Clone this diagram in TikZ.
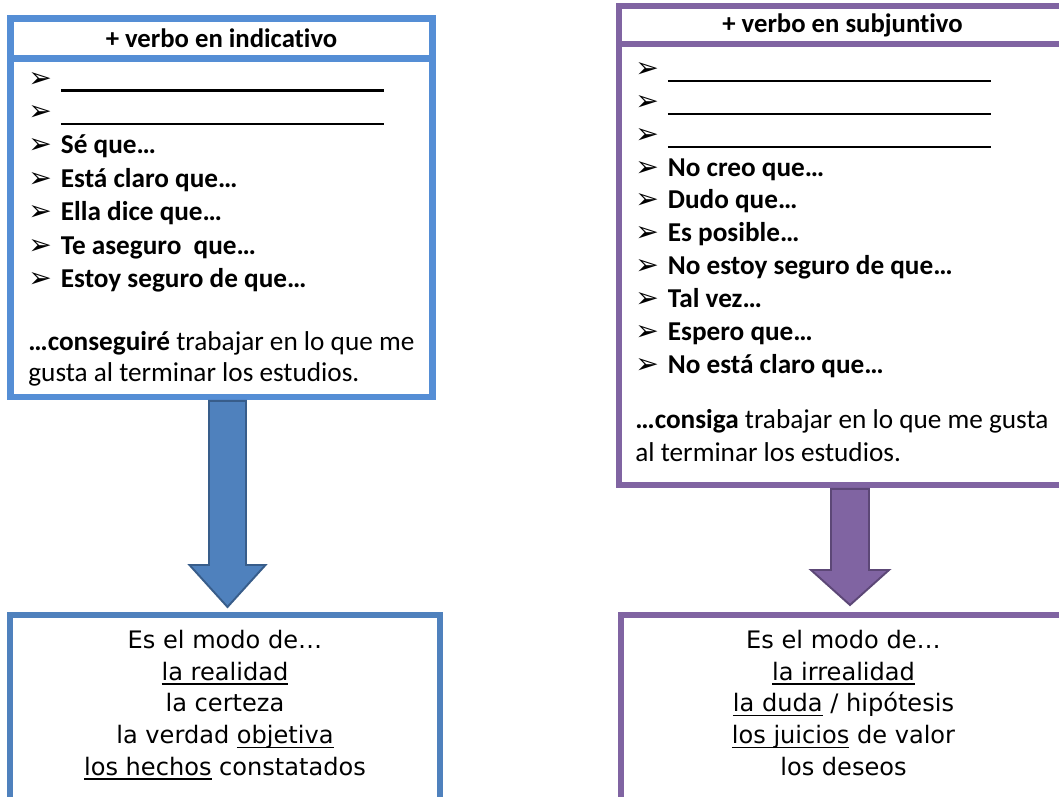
\documentclass[tikz,border=0pt]{standalone}
\usepackage{fontspec}
\setmainfont{Carlito}[Ligatures=NoCommon]
\newfontfamily\dejavu{DejaVu Sans}
\usetikzlibrary{positioning, calc}
\definecolor{indblue}{RGB}{85, 142, 213}
\definecolor{resblue}{RGB}{79, 129, 189}
\definecolor{arrblue}{RGB}{56, 93, 138}
\definecolor{subpurple}{RGB}{128, 100, 162}
\definecolor{arrpurple}{RGB}{92, 71, 118}
\newcommand{\bul}{\makebox[18.5pt][l]{\dejavu\fontsize{16}{16}\selectfont ➢}}
\newcommand{\blank}{\rule[-2.6pt]{184pt}{1.3pt}}
\newlength{\undlwd}
\newcommand{\undl}[1]{\settowidth{\undlwd}{#1}\rlap{\rule[-2.6pt]{\undlwd}{0.8pt}}#1}

\begin{document}
\begin{tikzpicture}[x=0.02cm, y=-0.02cm,
    node distance=0pt,
    hdr/.style={rectangle, line width=3.7pt, outer sep=0pt, inner sep=0pt,
                font=\fontsize{15.2}{18}\selectfont\bfseries},
    frame/.style={rectangle, line width=3.7pt, outer sep=0pt, inner sep=0pt},
    listtxt/.style={align=left, inner sep=0pt, anchor=base west},
    restxt/.style={align=center, inner sep=0pt, anchor=base,
                font=\dejavu\fontsize{13.7}{18}\selectfont},
    fatarrow/.style={line width=1.1pt, line join=miter}
  ]
  \useasboundingbox (0,0) rectangle (1059,797);
  \clip (0,0) rectangle (1059,797);

  % indicativo (last line of each text sits on its anchor)
  \node[hdr, draw=indblue, minimum width=8.44cm, minimum height=0.8cm] (hdrL) at (221.5,38.5) {+ verbo en indicativo};
  \node[frame, draw=indblue, minimum width=8.44cm, minimum height=6.77cm, below=of hdrL] (bodyL) {};
  \node[listtxt, font=\fontsize{15.5}{19}\selectfont] (txtL) at ($(bodyL.north west)+(17.5,323.5)$) {%
    \bul\blank\\
    \bul\blank\\
    \bul\textbf{Sé que…}\\
    \bul\textbf{Está claro que…}\\
    \bul\textbf{Ella dice que…}\\
    \bul\textbf{Te aseguro\ \ que…}\\
    \bul\textbf{Estoy seguro de que…}\\[16.7pt]
    \textbf{…conseguiré} trabajar en lo que me\\[-0.9pt]
    gusta al terminar los estudios.};

  % subjuntivo
  \node[hdr, draw=subpurple, minimum width=8.94cm, minimum height=0.76cm] (hdrR) at (842.5,25) {+ verbo en subjuntivo};
  \node[frame, draw=subpurple, minimum width=8.94cm, minimum height=8.82cm, below=of hdrR] (bodyR) {};
  \node[listtxt, font=\fontsize{15.5}{18.7}\selectfont] (txtR) at ($(bodyR.north west)+(16,418)$) {%
    \bul\blank\\
    \bul\blank\\
    \bul\blank\\
    \bul\textbf{No creo que…}\\
    \bul\textbf{Dudo que…}\\
    \bul\textbf{Es posible…}\\
    \bul\textbf{No estoy seguro de que…}\\
    \bul\textbf{Tal vez…}\\
    \bul\textbf{Espero que…}\\
    \bul\textbf{No está claro que…}\\[12.5pt]
    \textbf{…consiga} trabajar en lo que me gusta\\[0.6pt]
    al terminar los estudios.};

  % modos
  \node[frame, draw=resblue, line width=3.4pt, minimum width=8.6cm, minimum height=5cm, anchor=north] (resL) at (225,615) {};
  \node[restxt] (modoL) at ($(resL.north)+(0,160)$) {Es el modo de…\\
    \undl{la realidad}\\
    la certeza\\
    la verdad \undl{objetiva}\\
    \undl{los hechos} constatados};
  \node[frame, draw=subpurple, line width=3.4pt, minimum width=8.96cm, minimum height=5cm, anchor=north] (resR) at (845,615) {};
  \node[restxt] (modoR) at ($(resR.north)+(-1.5,160)$) {Es el modo de…\\
    \undl{la irrealidad}\\
    \undl{la duda} / hipótesis\\
    \undl{los juicios} de valor\\
    los deseos};

  % flechas
  \coordinate (aLs) at ($(bodyL.south)+(6,4)$);
  \coordinate (aLe) at ($(resL.north)+(2.5,-8)$);
  \coordinate (aLh) at ($(aLe)+(0,-42)$);
  \draw[fatarrow, fill=resblue, draw=arrblue] ($(aLs)+(-18.5,0)$) -- ($(aLs)+(18.5,0)$)
    -- ($(aLh)+(18.5,0)$) -- ($(aLh)+(38,0)$) -- (aLe) -- ($(aLh)+(-38,0)$)
    -- ($(aLh)+(-18.5,0)$) -- cycle;
  \coordinate (aRs) at ($(bodyR.south)+(7.5,4)$);
  \coordinate (aRe) at ($(resR.north)+(5,-10)$);
  \coordinate (aRh) at ($(aRe)+(0,-35)$);
  \draw[fatarrow, fill=subpurple, draw=arrpurple] ($(aRs)+(-19,0)$) -- ($(aRs)+(19,0)$)
    -- ($(aRh)+(19,0)$) -- ($(aRh)+(39,0)$) -- (aRe) -- ($(aRh)+(-39,0)$)
    -- ($(aRh)+(-19,0)$) -- cycle;
\end{tikzpicture}
\end{document}
